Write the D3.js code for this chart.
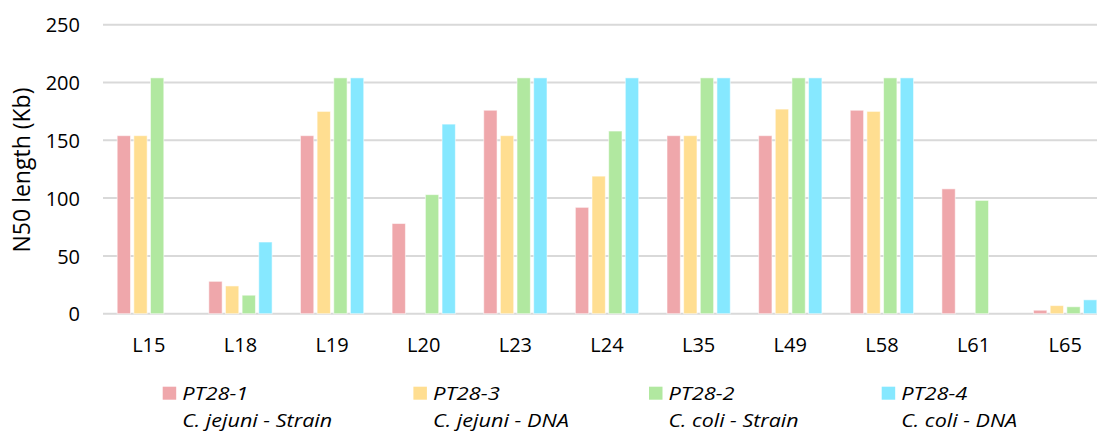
<!DOCTYPE html>
<html>
<head>
<meta charset="utf-8">
<script src="https://cdn.jsdelivr.net/npm/d3@7"></script>
<style>
  html, body { margin: 0; padding: 0; background: #fff; }
  svg { display: block; }
  text { font-family: "Open Sans", "Noto Sans", sans-serif; fill: #000; }
</style>
</head>
<body>
<svg id="chart" width="1097" height="432"></svg>
<script>
// Isolates (categories)
const categories = ["L15", "L18", "L19", "L20", "L23", "L24", "L35", "L49", "L58", "L61", "L65"];

// N50 length (Kb) per sample; null = no assembly reported
const pt28_1 = [154, 28, 154, 78, 176, 92, 154, 154, 176, 108, 3];
const pt28_3 = [154, 24, 175, null, 154, 119, 154, 177, 175, null, 7];
const pt28_2 = [204, 16, 204, 103, 204, 158, 204, 204, 204, 98, 6];
const pt28_4 = [null, 62, 204, 164, 204, 204, 204, 204, 204, null, 12];

const seriesNames = ["PT28-1", "PT28-3", "PT28-2", "PT28-4"];
const seriesSub = ["C. jejuni - Strain", "C. jejuni - DNA", "C. coli - Strain", "C. coli - DNA"];
const seriesValues = [pt28_1, pt28_3, pt28_2, pt28_4];
const colors = ["#EFA7AB", "#FFDE91", "#B1E8A0", "#86E8FF"];

const yTicks = [0, 50, 100, 150, 200, 250];

const svg = d3.select("#chart");

const x = d3.scaleBand().domain(categories).range([103, 1111]).padding(0);
const x1 = d3.scaleBand().domain(seriesNames)
  .range([-33.3, 33.3]).paddingInner(0.2).paddingOuter(0.1);
const y = d3.scaleLinear().domain([0, 250]).range([313.7, 24.7]);

// Horizontal gridlines (including the baseline)
svg.append("g")
  .selectAll("line")
  .data(yTicks)
  .join("line")
  .attr("x1", 103)
  .attr("x2", 1111)
  .attr("y1", d => y(d))
  .attr("y2", d => y(d))
  .attr("stroke", "#D9D9D9")
  .attr("stroke-width", 2);

// Y axis tick labels
const yAxis = d3.axisLeft(y).tickValues(yTicks).tickSize(0).tickPadding(0);
const gy = svg.append("g").attr("transform", "translate(80,0)").call(yAxis);
gy.select(".domain").remove();
gy.selectAll("text")
  .attr("font-size", 20)
  .attr("font-family", "'Open Sans', sans-serif")
  .attr("fill", "#000")
  .attr("dy", "0.36em");

// X axis category labels
const xAxis = d3.axisBottom(x).tickSize(0).tickPadding(0);
const gx = svg.append("g").attr("transform", "translate(0,338)").call(xAxis);
gx.select(".domain").remove();
gx.selectAll("text")
  .attr("font-size", 20)
  .attr("font-family", "'Open Sans', sans-serif")
  .attr("fill", "#000")
  .attr("dy", "0.72em");

// Bars
const barData = [];
categories.forEach((c, i) => {
  seriesNames.forEach((s, k) => {
    const v = seriesValues[k][i];
    if (v !== null && v !== undefined) barData.push({ c, s, k, v });
  });
});

svg.append("g")
  .selectAll("rect")
  .data(barData)
  .join("rect")
  .attr("x", d => x(d.c) + x.bandwidth() / 2 + x1(d.s))
  .attr("y", d => y(d.v))
  .attr("width", x1.bandwidth())
  .attr("height", d => y(0) - y(d.v))
  .attr("fill", d => colors[d.k])
  .attr("stroke", "rgba(255,255,255,0.55)")
  .attr("stroke-width", 1);

// Y axis title
svg.append("text")
  .attr("transform", "translate(30,170) rotate(-90)")
  .attr("text-anchor", "middle")
  .attr("font-size", 23)
  .text("N50 length (Kb)");

// Legend
const legendX = [162.7, 413.4, 649, 881.7];
const nameLen = [66, 67, 66, 66];
const subLen = [150, 136, 130, 116];
const lg = svg.append("g");
seriesNames.forEach((s, k) => {
  const g = lg.append("g").attr("transform", `translate(${legendX[k]},0)`);
  g.append("rect")
    .attr("x", 0).attr("y", 386.7)
    .attr("width", 13.5).attr("height", 13)
    .attr("fill", colors[k]);
  g.append("text")
    .attr("x", 19.5).attr("y", 400)
    .attr("font-size", 19).attr("font-style", "italic")
    .attr("textLength", nameLen[k]).attr("lengthAdjust", "spacingAndGlyphs")
    .text(s);
  g.append("text")
    .attr("x", 19.5).attr("y", 427)
    .attr("font-size", 19).attr("font-style", "italic")
    .attr("textLength", subLen[k]).attr("lengthAdjust", "spacingAndGlyphs")
    .text(seriesSub[k]);
});
</script>
</body>
</html>
